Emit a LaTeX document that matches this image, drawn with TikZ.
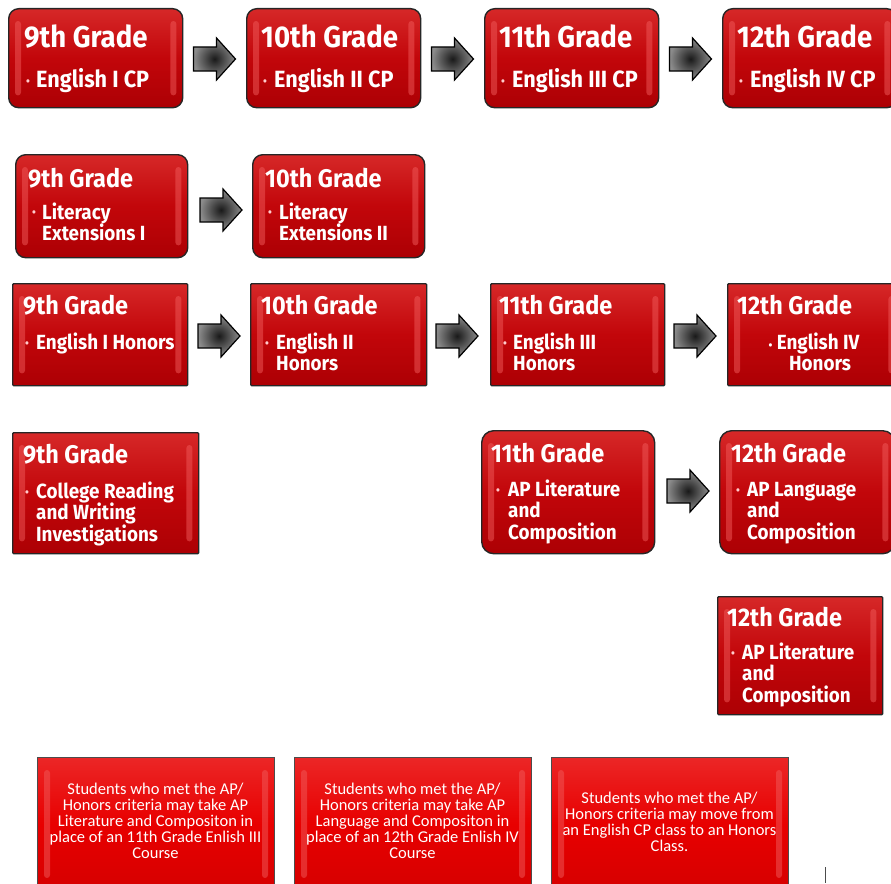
\documentclass[tikz,border=0pt]{standalone}
\usepackage{fontspec}
\newfontfamily\gf{Fira Sans}[FakeStretch=0.92]
\newfontfamily\cf{Carlito}
\usetikzlibrary{calc}
\definecolor{boxred}{RGB}{194,6,10}
\definecolor{boxtop}{RGB}{214,40,40}
\definecolor{boxdark}{RGB}{172,0,4}
\definecolor{brightred}{RGB}{232,0,0}
\definecolor{stripred}{RGB}{240,90,90}
\tikzset{
  gbox/.style={draw=black!85, line width=1.4pt, inner sep=0, anchor=north west,
    top color=boxtop, bottom color=boxdark, middle color=boxred},
  fbox/.style={draw=black!70, line width=1pt, inner sep=0, anchor=north west,
    top color=brightred!85!white, bottom color=brightred!92!black, middle color=brightred},
  strip/.style={fill=stripred, opacity=0.5, rounded corners=3pt},
  ttlA/.style={font=\gf\bfseries\fontsize{30}{32}\selectfont, text=white, inner sep=0, anchor=base west},
  bodyA/.style={font=\gf\bfseries\fontsize{23.5}{26}\selectfont, text=white, inner sep=0, anchor=base west},
  ttl/.style={font=\gf\bfseries\fontsize{25.5}{28}\selectfont, text=white, inner sep=0, anchor=base west},
  body/.style={font=\gf\bfseries\fontsize{20.5}{21.5}\selectfont, text=white, inner sep=0, anchor=base west},
  bul/.style={font=\gf\bfseries\fontsize{12}{14}\selectfont, text=white!80!red, inner sep=0, anchor=base west},
  note/.style={font=\cf\fontsize{16.5}{16}\selectfont, text=white, inner sep=0, align=center},
  blkarrow/.style={draw=black, line width=1.2pt, line join=miter, shading=radial,
    inner color=black!90, outer color=black!45},
}
% name, x1, y1, x2, y2, corner radius, style
\newcommand\mkbox[7]{%
  \node[#7, rounded corners=#6, minimum width={#4-#2}, minimum height={#5-#3}] (#1) at (#2,#3) {};
  \fill[strip] ($(#1.north west)+(7,13)$) rectangle ($(#1.south west)+(13,-13)$);
  \fill[strip] ($(#1.north east)+(-13,13)$) rectangle ($(#1.south east)+(-7,-13)$);
}
% block arrow: name, cx, cy
\newcommand\mkarrow[3]{%
  \coordinate (#1) at (#2,#3);
  \path[blkarrow] ($(#1)+(-21,-12)$) -- ($(#1)+(2,-12)$) -- ($(#1)+(2,-21)$) -- ($(#1)+(21,0)$)
    -- ($(#1)+(2,21)$) -- ($(#1)+(2,12)$) -- ($(#1)+(-21,12)$) -- cycle;
}
\newcommand\two[2]{\vtop{\hbox{#1}\hbox{#2}}}
\newcommand\three[3]{\vtop{\hbox{#1}\hbox{#2}\hbox{#3}}}
\begin{document}
\begin{tikzpicture}[x=1pt,y=-1pt]
\useasboundingbox (0,0) rectangle (891,883);
% Row 1
\mkbox{A1}{8}{8}{182}{107}{10pt}{gbox}
\mkbox{A2}{246}{8}{420}{107}{10pt}{gbox}
\mkbox{A3}{484}{8}{658}{107}{10pt}{gbox}
\mkbox{A4}{722}{8}{896}{107}{10pt}{gbox}
\node[ttlA] (A1t) at (24,48) {9th Grade};
\node[bul] (A1b) at (26,85) {•};
\node[bodyA] (A1s) at (36,87) {English I CP};
\node[ttlA] (A2t) at (261,48) {10th Grade};
\node[bul] (A2b) at (263,85) {•};
\node[bodyA] (A2s) at (274,87) {English II CP};
\node[ttlA] (A3t) at (499,48) {11th Grade};
\node[bul] (A3b) at (501,85) {•};
\node[bodyA] (A3s) at (512,87) {English III CP};
\node[ttlA] (A4t) at (737,48) {12th Grade};
\node[bul] (A4b) at (739,85) {•};
\node[bodyA] (A4s) at (750,87) {English IV CP};
\mkarrow{r1a}{214.5}{59}
\mkarrow{r1b}{452.5}{59}
\mkarrow{r1c}{690.5}{59}
% Row 2
\mkbox{B1}{15}{154}{187}{257}{10pt}{gbox}
\mkbox{B2}{252}{154}{424}{257}{10pt}{gbox}
\node[ttl] (B1t) at (28,187) {9th Grade};
\node[bul] (B1b) at (32,216) {•};
\node[body] (B1s) at (42,219) {\two{Literacy}{Extensions I}};
\node[ttl] (B2t) at (265,187) {10th Grade};
\node[bul] (B2b) at (268,216) {•};
\node[body] (B2s) at (279,219) {\two{Literacy}{Extensions II}};
\mkarrow{r2a}{221}{210}
% Row 3
\mkbox{C1}{12}{283}{187}{385}{1pt}{gbox}
\mkbox{C2}{250}{283}{426}{385}{1pt}{gbox}
\mkbox{C3}{490}{283}{664}{385}{1pt}{gbox}
\mkbox{C4}{727}{283}{900}{385}{1pt}{gbox}
\node[ttl] (C1t) at (23,314) {9th Grade};
\node[bul] (C1b) at (25,347) {•};
\node[body] (C1s) at (36,349) {English I Honors};
\node[ttl] (C2t) at (261,314) {10th Grade};
\node[bul] (C2b) at (265,347) {•};
\node[body] (C2s) at (276,349) {\two{English II}{Honors}};
\node[ttl] (C3t) at (499,314) {11th Grade};
\node[bul] (C3b) at (503,347) {•};
\node[body] (C3s) at (513,349) {\two{English III}{Honors}};
\node[ttl] (C4t) at (737,314) {12th Grade};
\node[body, anchor=base] (C4s) at (814,349) {{\fontsize{12}{14}\selectfont•}\ English IV};
\node[body, anchor=base] (C4u) at (820,370.5) {Honors};
\mkarrow{r3a}{219}{336}
\mkarrow{r3b}{457}{336}
\mkarrow{r3c}{695}{336}
% Row 4
\mkbox{D1}{12}{432}{198}{553}{1pt}{gbox}
\node[ttl] (D1t) at (23,463) {9th Grade};
\node[bul] (D1b) at (25,496) {•};
\node[body] (D1s) at (36,498) {\three{College Reading}{and Writing}{Investigations}};
\mkbox{D2}{481}{430}{654}{553}{12pt}{gbox}
\mkbox{D3}{719}{430}{894}{553}{12pt}{gbox}
\node[ttl] (D2t) at (491,462) {11th Grade};
\node[bul] (D2b) at (496,494) {•};
\node[body] (D2s) at (508,496) {\three{AP Literature}{and}{Composition}};
\node[ttl] (D3t) at (731,462) {12th Grade};
\node[bul] (D3b) at (736,494) {•};
\node[body] (D3s) at (747,496) {\three{AP Language}{and}{Composition}};
\mkarrow{r4a}{688}{491}
% Row 5
\mkbox{E1}{717}{596}{882}{714}{1pt}{gbox}
\node[ttl] (E1t) at (727,626) {12th Grade};
\node[bul] (E1b) at (731,657) {•};
\node[body] (E1s) at (742,659) {\three{AP Literature}{and}{Composition}};
% Notes
\mkbox{F1}{37}{757}{274}{890}{0pt}{fbox}
\mkbox{F2}{294}{757}{531}{890}{0pt}{fbox}
\mkbox{F3}{551}{757}{788}{890}{0pt}{fbox}
\node[note] (F1s) at (155.5,821) {Students who met the AP/\\Honors criteria may take AP\\Literature and Compositon in\\place of an 11th Grade Enlish III\\Course};
\node[note] (F2s) at (412.5,821) {Students who met the AP/\\Honors criteria may take AP\\Language and Compositon in\\place of an 12th Grade Enlish IV\\Course};
\node[note] (F3s) at (669.5,822) {Students who met the AP/\\Honors criteria may move from\\an English CP class to an Honors\\Class.};
\coordinate (m1) at (825,867);
\coordinate (m2) at (825,883);
\draw[black!70, line width=0.8pt] (m1) -- (m2);
\end{tikzpicture}
\end{document}
